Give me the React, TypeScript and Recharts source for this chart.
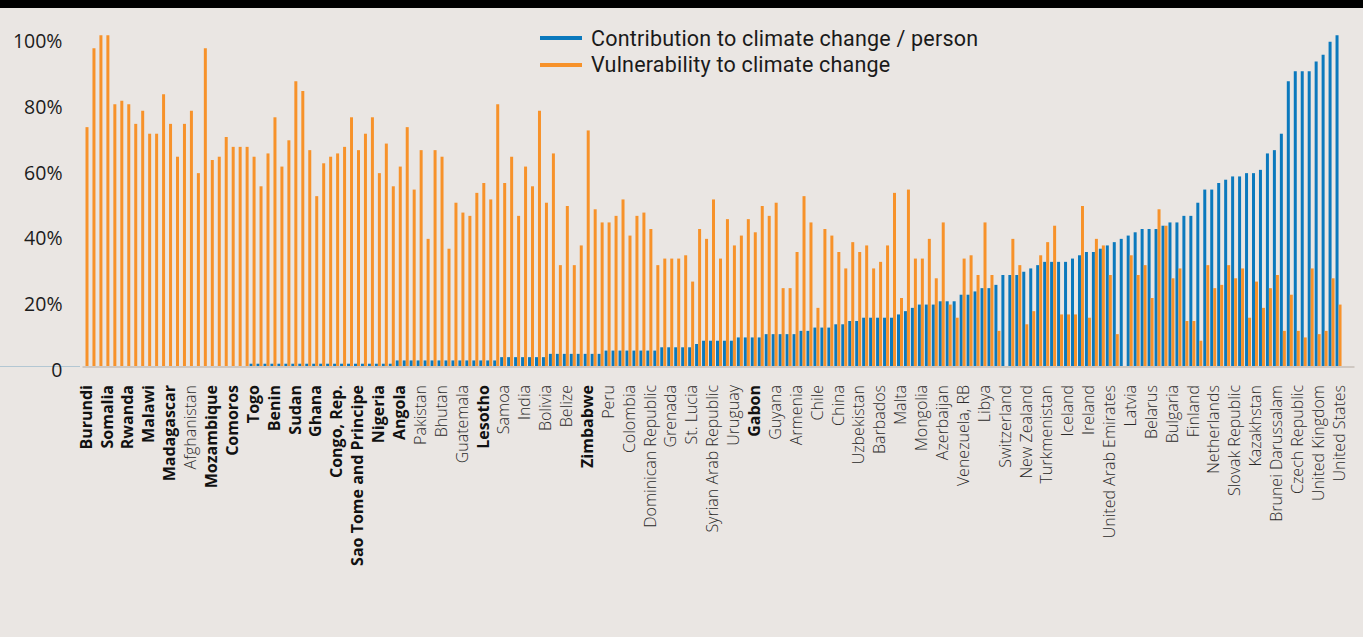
import React from "react";
import { BarChart, Bar, XAxis, YAxis } from "recharts";

// Every third country carries a label, the rest are left blank
const labeledCountries: string[] = [
  "Burundi", "Somalia", "Rwanda", "Malawi", "Madagascar", "Afghanistan", "Mozambique",
  "Comoros", "Togo", "Benin", "Sudan", "Ghana", "Congo, Rep.", "Sao Tome and Principe",
  "Nigeria", "Angola", "Pakistan", "Bhutan", "Guatemala", "Lesotho", "Samoa", "India",
  "Bolivia", "Belize", "Zimbabwe", "Peru", "Colombia", "Dominican Republic", "Grenada",
  "St. Lucia", "Syrian Arab Republic", "Uruguay", "Gabon", "Guyana", "Armenia", "Chile",
  "China", "Uzbekistan", "Barbados", "Malta", "Mongolia", "Azerbaijan", "Venezuela, RB",
  "Libya", "Switzerland", "New Zealand", "Turkmenistan", "Iceland", "Ireland",
  "United Arab Emirates", "Latvia", "Belarus", "Bulgaria", "Finland", "Netherlands",
  "Slovak Republic", "Kazakhstan", "Brunei Darussalam", "Czech Republic", "United Kingdom",
  "United States",
];

// African countries are printed in bold
const boldCountries: string[] = [
  "Burundi", "Somalia", "Rwanda", "Malawi", "Madagascar", "Mozambique", "Comoros", "Togo",
  "Benin", "Sudan", "Ghana", "Congo, Rep.", "Sao Tome and Principe", "Nigeria", "Angola",
  "Lesotho", "Zimbabwe", "Gabon",
];

// Contribution to climate change / person (%)
const contribution: number[] = [
  0, 0, 0, 0, 0, 0, 0, 0, 0, 0,
  0, 0, 0, 0, 0, 0, 0, 0, 0, 0,
  0, 0, 0, 0, 1, 1, 1, 1, 1, 1,
  1, 1, 1, 1, 1, 1, 1, 1, 1, 1,
  1, 1, 1, 1, 1, 2, 2, 2, 2, 2,
  2, 2, 2, 2, 2, 2, 2, 2, 2, 2,
  3, 3, 3, 3, 3, 3, 3, 4, 4, 4,
  4, 4, 4, 4, 4, 5, 5, 5, 5, 5,
  5, 5, 5, 6, 6, 6, 6, 6, 7, 8,
  8, 8, 8, 8, 9, 9, 9, 9, 10, 10,
  10, 10, 10, 11, 11, 12, 12, 12, 13, 13,
  14, 14, 15, 15, 15, 15, 15, 16, 17, 18,
  19, 19, 19, 20, 20, 20, 22, 22, 23, 24,
  24, 25, 28, 28, 28, 29, 30, 31, 32, 32,
  32, 32, 33, 34, 35, 35, 36, 37, 38, 39,
  40, 41, 42, 42, 42, 43, 44, 44, 46, 46,
  50, 54, 54, 56, 57, 58, 58, 59, 59, 60,
  65, 66, 71, 87, 90, 90, 90, 93, 95, 99, 101,
];

// Vulnerability to climate change (%)
const vulnerability: (number | null)[] = [
  73, 97, 101, 101, 80, 81, 80, 74, 78, 71,
  71, 83, 74, 64, 74, 78, 59, 97, 63, 64,
  70, 67, 67, 67, 64, 55, 65, 76, 61, 69,
  87, 84, 66, 52, 62, 64, 65, 67, 76, 66,
  71, 76, 59, 68, 55, 61, 73, 54, 66, 39,
  66, 64, 36, 50, 47, 46, 53, 56, 51, 80,
  56, 64, 46, 61, 55, 78, 50, 65, 31, 49,
  31, 37, 72, 48, 44, 44, 46, 51, 40, 46,
  47, 42, 31, 33, 33, 33, 34, 26, 42, 39,
  51, 33, 45, 37, 40, 45, 41, 49, 46, 50,
  24, 24, 35, 52, 44, 18, 42, 40, 35, 30,
  38, 35, 37, 30, 32, 37, 53, 21, 54, 33,
  33, 39, 27, 44, 19, 15, 33, 34, 28, 44,
  28, 11, null, 39, 31, 13, 17, 34, 38, 43,
  16, 16, 16, 49, 15, 39, 37, 28, 10, null,
  34, 28, 31, 21, 48, 43, 27, 30, 14, 14,
  8, 31, 24, 25, 31, 27, 30, 15, 26, 18,
  24, 28, 11, 22, 11, 9, 30, 10, 11, 27, 19,
];

const yTicks: number[] = [0, 20, 40, 60, 80, 100];

const BLUE = "#0b79bd";
const ORANGE = "#f7922a";
const BG = "#eae6e3";

const data = contribution.map((c, i) => ({
  country: i % 3 === 0 ? labeledCountries[i / 3] : "",
  contribution: c,
  vulnerability: vulnerability[i],
}));

const CountryTick = (props: any) => {
  const { x, y, payload } = props;
  const name: string = payload.value;
  if (!name) return <g />;
  const bold = boldCountries.includes(name);
  return (
    <text
      x={x}
      y={y}
      transform={`rotate(-90 ${x} ${y})`}
      textAnchor="end"
      dy="0.36em"
      fontSize={16}
      fontFamily="'Open Sans', sans-serif"
      fontWeight={bold ? 700 : 300}
      fill={bold ? "#111" : "#2a2a2a"}
    >
      {name}
    </text>
  );
};

const PercentTick = (props: any) => {
  const { x, y, payload } = props;
  return (
    <text x={x} y={y} dy="0.5em" textAnchor="end" fontSize={19.5} fontFamily="'Open Sans', sans-serif" fill="#1c1c1c">
      {payload.value === 0 ? "0" : `${payload.value}%`}
    </text>
  );
};

export default function App() {
  return (
    <div style={{ position: "absolute", left: 0, top: 0, width: 1363, height: 637, background: BG, overflow: "hidden" }}>
      <div style={{ position: "absolute", left: 0, top: 0, width: 1363, height: 8, background: "#000" }} />
      <div style={{ position: "absolute", left: 0, top: 366, width: 80, height: 1, background: "#b3c7d3" }} />

      {/* legend */}
      <div style={{ position: "absolute", left: 540, top: 25, fontFamily: "Roboto, sans-serif", fontSize: 21.5, letterSpacing: 0.2, color: "#1a1a1a" }}>
        {[
          { label: "Contribution to climate change / person", color: BLUE },
          { label: "Vulnerability to climate change", color: ORANGE },
        ].map((item) => (
          <div key={item.label} style={{ display: "flex", alignItems: "center", height: 26.6 }}>
            <div style={{ width: 42, height: 4, background: item.color, marginRight: 9 }} />
            <span>{item.label}</span>
          </div>
        ))}
      </div>

      <BarChart
        width={1363}
        height={637}
        data={data}
        margin={{ top: 22, right: 8.5, bottom: 0, left: 0 }}
        barGap={0}
        style={{ position: "absolute", left: 0, top: 0 }}
      >
        <XAxis
          dataKey="country"
          interval={0}
          height={270}
          tickLine={false}
          tickSize={0}
          tickMargin={18}
          axisLine={{ stroke: "#cfc8c2", strokeWidth: 2 }}
          padding={{ left: 0, right: 12 }}
          tick={CountryTick}
        />
        <YAxis
          domain={[0, 105]}
          ticks={yTicks}
          width={82.5}
          tickLine={false}
          axisLine={false}
          tickSize={0}
          tickMargin={20}
          tick={PercentTick}
        />
        <Bar dataKey="contribution" fill={BLUE} barSize={3} isAnimationActive={false} />
        <Bar dataKey="vulnerability" fill={ORANGE} barSize={3} isAnimationActive={false} />
      </BarChart>
    </div>
  );
}
